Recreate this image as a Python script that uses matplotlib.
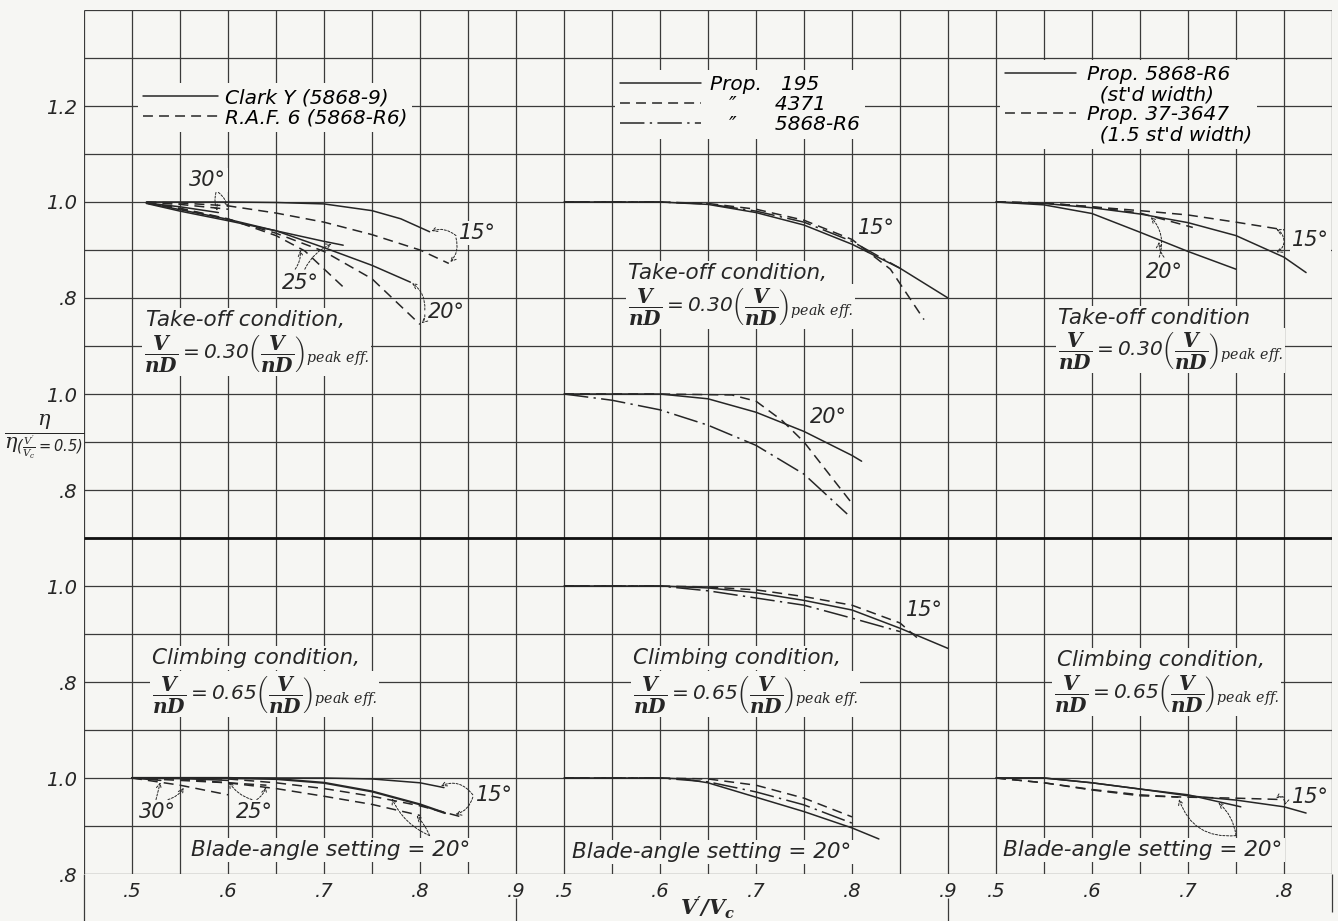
import numpy as np
import matplotlib
matplotlib.use("Agg")
import matplotlib.pyplot as plt

plt.rcParams["font.family"] = ["DejaVu Sans"]
plt.rcParams["mathtext.fontset"] = "custom"
plt.rcParams["mathtext.rm"] = "DejaVu Sans:italic"
plt.rcParams["mathtext.sf"] = "DejaVu Sans:italic"
plt.rcParams["mathtext.it"] = "DejaVu Serif:italic"
plt.rcParams["mathtext.bf"] = "DejaVu Serif:italic:bold"

# ---------------------------------------------------------------------------
# Efficiency ratio  eta / eta(V'/Vc = 0.5)  against  V'/Vc
# ---------------------------------------------------------------------------
# Left column: Clark Y (5868-9) vs R.A.F. 6 (5868-R6), take-off condition
to_cy15_x = [0.515, 0.55, 0.60, 0.65, 0.70, 0.75, 0.78, 0.81]
to_cy15_y = [1.000, 1.000, 1.000, 0.999, 0.996, 0.982, 0.965, 0.938]
to_raf15_x = [0.515, 0.55, 0.60, 0.65, 0.70, 0.75, 0.80, 0.83]
to_raf15_y = [1.000, 0.998, 0.992, 0.977, 0.958, 0.932, 0.900, 0.872]
to_cy20_x = [0.515, 0.55, 0.60, 0.65, 0.70, 0.75, 0.79]
to_cy20_y = [0.998, 0.984, 0.964, 0.940, 0.905, 0.868, 0.833]
to_raf20_x = [0.515, 0.55, 0.60, 0.65, 0.70, 0.75, 0.80]
to_raf20_y = [0.998, 0.986, 0.964, 0.935, 0.897, 0.840, 0.745]
to_cy25_x = [0.515, 0.55, 0.60, 0.65, 0.70, 0.72]
to_cy25_y = [0.997, 0.981, 0.961, 0.940, 0.918, 0.910]
to_raf25_x = [0.515, 0.55, 0.60, 0.65, 0.68, 0.72]
to_raf25_y = [0.998, 0.987, 0.965, 0.930, 0.898, 0.823]
to_cy30_x = [0.515, 0.55, 0.59]
to_cy30_y = [0.998, 0.990, 0.978]
to_raf30_x = [0.515, 0.55, 0.60]
to_raf30_y = [0.999, 0.995, 0.985]

# Left column: blade-angle setting comparison, climbing condition
bl_cy15_x = [0.50, 0.60, 0.70, 0.75, 0.80, 0.825]
bl_cy15_y = [1.000, 1.000, 1.000, 0.998, 0.990, 0.980]
bl_raf15_x = [0.50, 0.60, 0.65, 0.70, 0.75, 0.80, 0.845]
bl_raf15_y = [1.000, 0.998, 0.990, 0.978, 0.962, 0.942, 0.918]
bl_cy20_x = [0.50, 0.60, 0.65, 0.70, 0.75, 0.80, 0.826]
bl_cy20_y = [1.000, 1.000, 0.998, 0.990, 0.972, 0.945, 0.927]
bl_raf20_x = [0.50, 0.55, 0.60, 0.65, 0.70, 0.75, 0.80]
bl_raf20_y = [1.000, 0.998, 0.990, 0.978, 0.962, 0.945, 0.922]
bl_cy25_x = [0.50, 0.55, 0.60]
bl_cy25_y = [1.000, 0.999, 0.995]
bl_raf25_x = [0.50, 0.55, 0.60, 0.64]
bl_raf25_y = [1.000, 0.995, 0.990, 0.985]
bl_cy30_x = [0.50, 0.53]
bl_cy30_y = [1.000, 0.995]
bl_raf30_x = [0.50, 0.55, 0.60]
bl_raf30_y = [1.000, 0.985, 0.965]

# Middle column: Props. 195, 4371, 5868-R6
to15_p195_x = [0.50, 0.60, 0.65, 0.70, 0.75, 0.80, 0.85, 0.90]
to15_p195_y = [1.000, 1.000, 0.995, 0.978, 0.952, 0.912, 0.862, 0.800]
to15_p4371_x = [0.50, 0.60, 0.65, 0.70, 0.75, 0.80, 0.84, 0.875]
to15_p4371_y = [1.000, 1.000, 0.997, 0.985, 0.962, 0.922, 0.860, 0.755]
to15_p5868_x = [0.50, 0.60, 0.65, 0.70, 0.75, 0.80, 0.85]
to15_p5868_y = [1.000, 1.000, 0.996, 0.981, 0.958, 0.918, 0.862]

to20_p195_x = [0.50, 0.60, 0.65, 0.70, 0.75, 0.80, 0.81]
to20_p195_y = [1.000, 1.000, 0.990, 0.962, 0.922, 0.872, 0.860]
to20_p4371_x = [0.50, 0.60, 0.675, 0.70, 0.727, 0.75, 0.80]
to20_p4371_y = [1.000, 1.000, 0.998, 0.985, 0.945, 0.900, 0.772]
to20_p5868_x = [0.50, 0.55, 0.60, 0.65, 0.70, 0.75, 0.795]
to20_p5868_y = [1.000, 0.987, 0.967, 0.935, 0.893, 0.833, 0.750]

cl15_p195_x = [0.50, 0.60, 0.65, 0.70, 0.75, 0.80, 0.85, 0.90]
cl15_p195_y = [1.000, 1.000, 0.996, 0.986, 0.970, 0.950, 0.912, 0.870]
cl15_p4371_x = [0.50, 0.60, 0.65, 0.70, 0.75, 0.80, 0.85, 0.872]
cl15_p4371_y = [1.000, 1.000, 0.998, 0.992, 0.978, 0.960, 0.923, 0.885]
cl15_p5868_x = [0.50, 0.60, 0.65, 0.70, 0.75, 0.80, 0.85]
cl15_p5868_y = [1.000, 1.000, 0.990, 0.975, 0.960, 0.933, 0.905]

cl20_p195_x = [0.50, 0.60, 0.625, 0.65, 0.70, 0.75, 0.80, 0.828]
cl20_p195_y = [1.000, 1.000, 0.998, 0.990, 0.960, 0.930, 0.896, 0.873]
cl20_p4371_x = [0.50, 0.60, 0.65, 0.70, 0.75, 0.80]
cl20_p4371_y = [1.000, 1.000, 0.998, 0.985, 0.958, 0.919]
cl20_p5868_x = [0.50, 0.60, 0.65, 0.70, 0.75, 0.80]
cl20_p5868_y = [1.000, 1.000, 0.992, 0.971, 0.944, 0.906]

# Right column: standard width (5868-R6) vs 1.5 standard width (37-3647)
to_std15_x = [0.50, 0.55, 0.60, 0.65, 0.70, 0.75, 0.80, 0.823]
to_std15_y = [1.000, 0.997, 0.988, 0.975, 0.957, 0.930, 0.885, 0.853]
to_wide15_x = [0.50, 0.55, 0.60, 0.65, 0.70, 0.75, 0.80]
to_wide15_y = [1.000, 0.998, 0.990, 0.982, 0.973, 0.958, 0.942]
to_std20_x = [0.50, 0.55, 0.60, 0.65, 0.70, 0.75]
to_std20_y = [1.000, 0.994, 0.976, 0.937, 0.897, 0.860]
to_wide20_x = [0.50, 0.55, 0.60, 0.65, 0.705]
to_wide20_y = [1.000, 0.998, 0.990, 0.977, 0.947]

bl_std15_x = [0.50, 0.55, 0.60, 0.65, 0.70, 0.75, 0.80, 0.823]
bl_std15_y = [1.000, 1.000, 0.990, 0.977, 0.963, 0.954, 0.940, 0.927]
bl_wide15_x = [0.50, 0.55, 0.60, 0.65, 0.70, 0.75, 0.80]
bl_wide15_y = [1.000, 0.990, 0.975, 0.963, 0.960, 0.958, 0.955]
bl_std20_x = [0.50, 0.55, 0.60, 0.65, 0.70, 0.755]
bl_std20_y = [1.000, 1.000, 0.990, 0.977, 0.965, 0.940]
bl_wide20_x = [0.50, 0.55, 0.60, 0.65, 0.69]
bl_wide20_y = [1.000, 0.990, 0.976, 0.965, 0.960]

# Tick values
x_ticks_left = [0.5, 0.6, 0.7, 0.8, 0.9]
x_ticks_mid = [0.5, 0.6, 0.7, 0.8, 0.9]
x_ticks_right = [0.5, 0.6, 0.7, 0.8]
y_ticks_upper = [0.8, 1.0, 1.2]
y_ticks_lower = [0.8, 1.0]

# ---------------------------------------------------------------------------
W, H = 1338, 921
BG = "#f6f6f3"
INK = "#262626"
GRID = "#3a3a3a"
GX0, GY0, CELL = 84, 10, 48
NCOL, NROW = 26, 18

SOLID = "-"
DASH = (0, (6.5, 4.0))
DASHDOT = (0, (16, 3.5, 1.5, 3.5))

fig = plt.figure(figsize=(W / 100, H / 100), dpi=100, facecolor=BG)


def rect(c0, c1):
    return [(GX0 + c0 * CELL) / W, 1 - (GY0 + NROW * CELL) / H,
            (c1 - c0) * CELL / W, NROW * CELL / H]


# background grid, in cell units
ax_g = fig.add_axes(rect(0, NCOL))
ax_g.set_xlim(0, NCOL)
ax_g.set_ylim(NROW, 0)
ax_g.axis("off")
ax_g.vlines(np.arange(NCOL + 1), 0, NROW, color=GRID, lw=0.9, zorder=1)
ax_g.hlines(np.arange(NROW + 1), 0, NCOL, color=GRID, lw=0.9, zorder=1)
ax_g.hlines([11], 0, NCOL, color="#111111", lw=2.0, zorder=1)
ax_g.vlines([0], NROW, NROW + 1.0, color=GRID, lw=0.9, clip_on=False)
ax_g.vlines([9, 18], NROW + 0.5, NROW + 1.0, color=GRID, lw=0.9, clip_on=False)
ax_g.vlines([NCOL], NROW, NROW + 0.8, color=GRID, lw=0.9, clip_on=False)

TXT = dict(family=["DejaVu Sans"], style="italic", weight="normal", color=INK)
LEG_FONT = dict(family="DejaVu Sans", style="italic", size=14.5)


def note(col, row, s, size=15.5, ha="left", va="center", box=True):
    kw = dict(TXT)
    if box:
        kw["bbox"] = dict(facecolor=BG, edgecolor="none", pad=1.5)
    return ax_g.text(col, row, s, fontsize=size, ha=ha, va=va, zorder=3, **kw)


def angle(col, row, s):
    return note(col, row, s, size=15, ha="center")


COLS = {"left": (0, 9, 0.45, 0.90), "mid": (9, 18, 0.45, 0.90),
        "right": (18, 26, 0.45, 0.85)}
ONE_ROW = {"A": 4, "B": 8, "C": 12, "D": 16}


def panel(col_key, level):
    c0, c1, xlo, xhi = COLS[col_key]
    ax = fig.add_axes(rect(c0, c1))
    r = ONE_ROW[level]
    ax.set_xlim(xlo, xhi)
    ax.set_ylim(1.0 - (NROW - r) * 0.1, 1.0 + r * 0.1)
    ax.patch.set_visible(False)
    for s in ax.spines.values():
        s.set_visible(False)
    ax.set_xticks([])
    ax.set_yticks([])
    ax.tick_params(length=0)
    return ax


def tick_text(v):
    s = f"{v:.1f}"
    return s[1:] if s.startswith("0") else s


def style_ticklabels(labels, size):
    for t in labels:
        t.set_fontstyle("italic")
        t.set_fontsize(size)
        t.set_color(INK)


def curve(ax, xs, ys, ls, lw=1.1):
    return ax.plot(xs, ys, color=INK, lw=lw, linestyle=ls,
                   solid_capstyle="round", zorder=4)[0]


def leader(ax, xs, ys, at_x, from_col, from_row, rad=0.0):
    tx = at_x if at_x is not None else xs[-1]
    ty = float(np.interp(tx, xs, ys))
    ax.annotate("", xy=(tx, ty), xycoords="data",
                xytext=(from_col, from_row), textcoords=ax_g.transData,
                arrowprops=dict(arrowstyle="->,head_length=0.35,head_width=0.18",
                                linestyle=(0, (2.2, 1.6)), lw=0.7, color=INK,
                                shrinkA=0, shrinkB=1.5,
                                connectionstyle=f"arc3,rad={rad}"),
                annotation_clip=False)


def legend(ax, handles, labels, left_px, top_px, hlen, pad):
    ax.legend(handles, labels, loc="upper left",
              bbox_to_anchor=(left_px / W, 1 - top_px / H),
              bbox_transform=fig.transFigure, frameon=True, fancybox=False,
              facecolor=BG, edgecolor="none", framealpha=1.0,
              handlelength=hlen, handletextpad=pad, labelspacing=0.05,
              borderpad=0.25, borderaxespad=0, prop=LEG_FONT)


axes = {(c, l): panel(c, l) for c in COLS for l in ONE_ROW}

# y tick labels down the left edge
for lvl in ONE_ROW:
    ax = axes[("left", lvl)]
    yt = y_ticks_upper if lvl == "A" else y_ticks_lower
    ax.set_yticks(yt)
    ax.set_yticklabels([tick_text(v) for v in yt])
    ax.tick_params(axis="y", pad=5, labelleft=True)
    style_ticklabels(ax.get_yticklabels(), 14)

# x tick labels along the bottom
for ck, xt in (("left", x_ticks_left), ("mid", x_ticks_mid),
               ("right", x_ticks_right)):
    ax = axes[(ck, "D")]
    ax.set_xticks(xt)
    ax.set_xticklabels([tick_text(v) for v in xt])
    ax.tick_params(axis="x", pad=6, labelbottom=True)
    style_ticklabels(ax.get_xticklabels(), 14)

FORM_030 = (r"$\dfrac{\mathbf{V}}{\mathbf{nD}}\mathrm{=0.30}"
            r"{\left(\dfrac{\mathbf{V}}{\mathbf{nD}}\right)}_{\mathit{peak\ eff.}}$")
FORM_065 = (r"$\dfrac{\mathbf{V}}{\mathbf{nD}}\mathrm{=0.65}"
            r"{\left(\dfrac{\mathbf{V}}{\mathbf{nD}}\right)}_{\mathit{peak\ eff.}}$")

# ---- left column ----------------------------------------------------------
a = axes[("left", "A")]
h_cy = curve(a, to_cy15_x, to_cy15_y, SOLID)
h_raf = curve(a, to_raf15_x, to_raf15_y, DASH)
curve(a, to_cy20_x, to_cy20_y, SOLID)
curve(a, to_raf20_x, to_raf20_y, DASH)
curve(a, to_cy25_x, to_cy25_y, SOLID)
curve(a, to_raf25_x, to_raf25_y, DASH)
curve(a, to_cy30_x, to_cy30_y, SOLID)
curve(a, to_raf30_x, to_raf30_y, DASH)
legend(a, [h_cy, h_raf], ["Clark Y (5868-9)", "R.A.F. 6 (5868-R6)"],
       138, 83, 3.7, 0.35)

angle(2.58, 3.54, "30°")
angle(4.5, 5.69, "25°")
angle(7.55, 6.3, "20°")
angle(8.2, 4.65, "15°")
leader(a, to_cy30_x, to_cy30_y, None, 2.75, 3.8, 0.2)
leader(a, to_raf30_x, to_raf30_y, None, 2.8, 3.8, -0.2)
leader(a, to_cy25_x, to_cy25_y, 0.71, 4.6, 5.4, -0.2)
leader(a, to_raf25_x, to_raf25_y, 0.675, 4.4, 5.4, 0.2)
leader(a, to_cy20_x, to_cy20_y, None, 7.1, 6.25, 0.3)
leader(a, to_raf20_x, to_raf20_y, None, 7.1, 6.35, -0.3)
leader(a, to_cy15_x, to_cy15_y, None, 7.75, 4.7, 0.3)
leader(a, to_raf15_x, to_raf15_y, None, 7.75, 4.75, -0.3)

note(1.3, 6.46, "Take-off condition,")
note(1.25, 7.15, FORM_030, size=14.5)

note(1.42, 13.5, "Climbing condition,")
note(1.42, 14.25, FORM_065, size=14.5)

d = axes[("left", "D")]
curve(d, bl_cy15_x, bl_cy15_y, SOLID)
curve(d, bl_raf15_x, bl_raf15_y, DASH)
curve(d, bl_cy20_x, bl_cy20_y, SOLID, lw=1.6)
curve(d, bl_raf20_x, bl_raf20_y, DASH)
curve(d, bl_cy25_x, bl_cy25_y, SOLID)
curve(d, bl_raf25_x, bl_raf25_y, DASH)
curve(d, bl_cy30_x, bl_cy30_y, SOLID)
curve(d, bl_raf30_x, bl_raf30_y, DASH)
note(2.23, 17.5, "Blade-angle setting = 20°")
angle(1.52, 16.7, "30°")
angle(3.56, 16.7, "25°")
angle(8.55, 16.35, "15°")
leader(d, bl_cy30_x, bl_cy30_y, None, 1.5, 16.45, 0.0)
leader(d, bl_raf30_x, bl_raf30_y, 0.555, 1.75, 16.45, 0.2)
leader(d, bl_cy25_x, bl_cy25_y, None, 3.5, 16.45, -0.2)
leader(d, bl_raf25_x, bl_raf25_y, None, 3.6, 16.45, 0.2)
leader(d, bl_cy15_x, bl_cy15_y, 0.82, 8.1, 16.35, 0.4)
leader(d, bl_raf15_x, bl_raf15_y, 0.835, 8.1, 16.4, -0.3)
leader(d, bl_cy20_x, bl_cy20_y, 0.77, 7.2, 17.2, -0.2)
leader(d, bl_raf20_x, bl_raf20_y, 0.795, 7.2, 17.2, 0.1)

# ---- middle column --------------------------------------------------------
a = axes[("mid", "A")]
h195 = curve(a, to15_p195_x, to15_p195_y, SOLID)
h4371 = curve(a, to15_p4371_x, to15_p4371_y, DASH)
h5868 = curve(a, to15_p5868_x, to15_p5868_y, DASHDOT)
legend(a, [h195, h4371, h5868],
       ["Prop.   195", "   \u2033      4371", "   \u2033      5868-R6"],
       615, 70, 4.0, 0.45)
angle(16.5, 4.54, "15°")
note(11.33, 5.48, "Take-off condition,")
note(11.33, 6.17, FORM_030, size=14.5)

b = axes[("mid", "B")]
curve(b, to20_p195_x, to20_p195_y, SOLID)
curve(b, to20_p4371_x, to20_p4371_y, DASH)
curve(b, to20_p5868_x, to20_p5868_y, DASHDOT)
angle(15.5, 8.48, "20°")

c = axes[("mid", "C")]
curve(c, cl15_p195_x, cl15_p195_y, SOLID)
curve(c, cl15_p4371_x, cl15_p4371_y, DASH)
curve(c, cl15_p5868_x, cl15_p5868_y, DASHDOT)
angle(17.5, 12.5, "15°")
note(11.44, 13.5, "Climbing condition,")
note(11.44, 14.25, FORM_065, size=14.5)

d = axes[("mid", "D")]
curve(d, cl20_p195_x, cl20_p195_y, SOLID)
curve(d, cl20_p4371_x, cl20_p4371_y, DASH)
curve(d, cl20_p5868_x, cl20_p5868_y, DASHDOT)
note(10.17, 17.54, "Blade-angle setting = 20°")

# ---- right column ---------------------------------------------------------
a = axes[("right", "A")]
h_std = curve(a, to_std15_x, to_std15_y, SOLID)
h_wide = curve(a, to_wide15_x, to_wide15_y, DASH)
curve(a, to_std20_x, to_std20_y, SOLID)
curve(a, to_wide20_x, to_wide20_y, DASH)
blank = plt.Line2D([], [], linestyle="none")
legend(a, [h_std, blank, h_wide, blank],
       ["Prop. 5868-R6", "  (st'd width)", "Prop. 37-3647", "  (1.5 st'd width)"],
       1000, 60, 3.5, 0.55)
angle(22.5, 5.46, "20°")
angle(25.55, 4.8, "15°")
leader(a, to_wide20_x, to_wide20_y, 0.66, 22.4, 5.15, 0.3)
leader(a, to_std20_x, to_std20_y, 0.67, 22.5, 5.15, -0.2)
leader(a, to_wide15_x, to_wide15_y, 0.79, 25.0, 4.8, 0.3)
leader(a, to_std15_x, to_std15_y, 0.79, 25.0, 4.85, -0.3)
note(20.3, 6.42, "Take-off condition")
note(20.3, 7.1, FORM_030, size=14.5)

note(20.27, 13.54, "Climbing condition,")
note(20.2, 14.23, FORM_065, size=14.5)

d = axes[("right", "D")]
curve(d, bl_std15_x, bl_std15_y, SOLID)
curve(d, bl_wide15_x, bl_wide15_y, DASH)
curve(d, bl_std20_x, bl_std20_y, SOLID)
curve(d, bl_wide20_x, bl_wide20_y, DASH)
note(19.15, 17.5, "Blade-angle setting = 20°")
angle(25.55, 16.4, "15°")
leader(d, bl_wide15_x, bl_wide15_y, 0.79, 25.0, 16.4, 0.3)
leader(d, bl_std15_x, bl_std15_y, 0.80, 25.0, 16.45, -0.3)
leader(d, bl_wide20_x, bl_wide20_y, None, 24.0, 17.2, -0.4)
leader(d, bl_std20_x, bl_std20_y, 0.73, 24.0, 17.2, 0.2)

# ---- axis titles ------------------------------------------------------------
fig.text(44 / W, 1 - 437 / H,
         r"$\dfrac{\eta}{\eta_{(\frac{V'}{V_c}=0.5)}}$",
         ha="center", va="center", fontsize=15, color=INK)
fig.text(708 / W, 1 - 908 / H, r"$\mathbf{V'/V_c}$",
         ha="center", va="center", fontsize=15, color=INK)

fig.savefig("out.png", dpi=100, facecolor=BG)
